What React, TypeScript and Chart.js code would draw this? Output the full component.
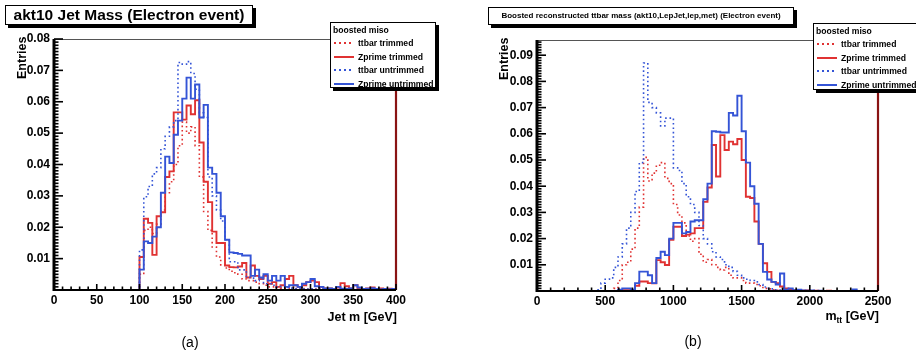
import React, { useEffect, useRef } from 'react';
import { Chart, registerables } from 'chart.js';

Chart.register(...registerables);

const FONT = "'Liberation Sans', Arial, Helvetica, sans-serif";
const RED = '#e03232';
const BLUE = '#3454d6';
const DARKRED = '#8a1414';

// ---------- Panel (a): akt10 jet mass, 80 bins of 5 GeV over 0-400 ----------
const binWidthA = 5;
const ttbarTrimmedA = [
  0, 0, 0, 0, 0, 0, 0, 0, 0, 0, 0, 0, 0, 0, 0, 0, 0, 0, 0, 0,
  0.005, 0.019, 0.02, 0.018, 0.021, 0.0255, 0.031, 0.0345, 0.04, 0.046,
  0.0535, 0.05, 0.052, 0.046, 0.036, 0.025, 0.019, 0.0137, 0.0105, 0.008,
  0.007, 0.006, 0.0055, 0.005, 0.0035, 0.003, 0.003, 0.0025, 0.002, 0.0015,
  0.001, 0.001, 0.0008, 0.0006, 0.0005, 0.0008, 0.0004, 0.0003, 0.0005, 0.0003,
  0.0002, 0.0003, 0.0002, 0.0001, 0.0002, 0, 0.0001, 0.0002, 0, 0.0001,
  0.0001, 0, 0.0001, 0, 0, 0.0001, 0, 0, 0, 0,
];
const zprimeTrimmedA = [
  0, 0, 0, 0, 0, 0, 0, 0, 0, 0, 0, 0, 0, 0, 0, 0, 0, 0, 0, 0,
  0.0105, 0.0227, 0.0214, 0.0112, 0.0235, 0.0248, 0.036, 0.0378, 0.0566, 0.0566,
  0.0543, 0.0588, 0.056, 0.0605, 0.047, 0.0345, 0.028, 0.0186, 0.015, 0.015,
  0.0078, 0.0073, 0.0072, 0.0075, 0.0086, 0.004, 0.0078, 0.0045, 0.0035, 0.0045,
  0.002, 0.0025, 0.001, 0.0015, 0.0035, 0.0045, 0.0015, 0.001, 0.0015, 0.0025,
  0.003, 0.0025, 0.001, 0.0005, 0.0005, 0.0003, 0.0008, 0.0022, 0.0012, 0.0005,
  0.0015, 0.0005, 0.0003, 0.0005, 0.0008, 0.0003, 0.0005, 0.0002, 0.0004, 0.0003,
];
const ttbarUntrimmedA = [
  0, 0, 0, 0, 0, 0, 0, 0, 0, 0, 0, 0, 0, 0, 0, 0, 0, 0, 0, 0,
  0.0128, 0.0297, 0.033, 0.037, 0.039, 0.045, 0.049, 0.052, 0.054, 0.0725,
  0.072, 0.0728, 0.069, 0.064, 0.0565, 0.055, 0.036, 0.03, 0.0255, 0.022,
  0.016, 0.009, 0.009, 0.0064, 0.0064, 0.004, 0.0038, 0.003, 0.0035, 0.002,
  0.002, 0.0015, 0.001, 0.0012, 0.0008, 0.0006, 0.0005, 0.0006, 0.0004, 0.0003,
  0.0004, 0.0002, 0.0003, 0.0001, 0.0002, 0.0001, 0.0002, 0, 0.0001, 0.0001,
  0, 0.0001, 0, 0.0001, 0, 0, 0.0001, 0, 0, 0,
];
const zprimeUntrimmedA = [
  0, 0, 0, 0, 0, 0, 0, 0, 0, 0, 0, 0, 0, 0, 0, 0, 0, 0, 0, 0,
  0.0065, 0.0155, 0.015, 0.017, 0.02, 0.031, 0.0425, 0.0405, 0.0495, 0.054,
  0.061, 0.0677, 0.061, 0.0655, 0.055, 0.059, 0.039, 0.037, 0.031, 0.0235,
  0.016, 0.012, 0.0118, 0.0115, 0.011, 0.011, 0.0045, 0.0065, 0.004, 0.005,
  0.003, 0.0045, 0.003, 0.0045, 0.001, 0.0015, 0.0015, 0.001, 0.002, 0.0025,
  0.0035, 0.0012, 0.001, 0.0005, 0.0005, 0.0003, 0.001, 0.0004, 0.0003, 0.0005,
  0.0015, 0.0008, 0.0003, 0.0004, 0.0006, 0.0003, 0.0002, 0.0003, 0.0002, 0.0003,
];
const xTicksA = { max: 400, major: 50, minor: 10 };
const yTicksA = { max: 0.08, major: 0.01, minor: 0.001 };

// ---------- Panel (b): reconstructed ttbar mass, 80 bins of 31.25 GeV over 0-2500 ----------
const binWidthB = 31.25;
const ttbarTrimmedB = [
  0, 0, 0, 0, 0, 0, 0, 0, 0, 0, 0, 0, 0, 0, 0, 0, 0, 0, 0.001, 0.004,
  0.01, 0.011, 0.016, 0.024, 0.032, 0.051, 0.042, 0.045, 0.048, 0.049,
  0.043, 0.041, 0.033, 0.029, 0.026, 0.021, 0.019, 0.02, 0.014, 0.011,
  0.012, 0.01, 0.009, 0.008, 0.009, 0.006, 0.005, 0.005, 0.004, 0.003,
  0.003, 0.0025, 0.002, 0.001, 0.0008, 0.0005, 0.0003, 0.0002, 0.0001, 0,
  0, 0, 0, 0, 0, 0, 0, 0, 0, 0,
  0, 0, 0, 0, 0, 0, 0, 0, 0, 0,
];
const zprimeTrimmedB = [
  0, 0, 0, 0, 0, 0, 0, 0, 0, 0, 0, 0, 0, 0, 0, 0, 0, 0, 0, 0.0003,
  0.0003, 0.0003, 0.0003, 0.002, 0.0036, 0.0036, 0.003, 0.0029, 0.0118, 0.011,
  0.0099, 0.0195, 0.0245, 0.0245, 0.021, 0.0215, 0.022, 0.024, 0.024, 0.034,
  0.0395, 0.0557, 0.0437, 0.0595, 0.0538, 0.057, 0.056, 0.058, 0.05, 0.036,
  0.0355, 0.0265, 0.018, 0.0106, 0.0073, 0.0035, 0.003, 0.0017, 0.001, 0.0005,
  0.0003, 0.0002, 0.0001, 0.0002, 0, 0.0001, 0, 0, 0.0001, 0,
  0, 0, 0, 0, 0.0001, 0, 0, 0, 0, 0,
];
const ttbarUntrimmedB = [
  0, 0, 0, 0, 0, 0, 0, 0, 0, 0, 0, 0, 0, 0, 0.0005, 0.003, 0.0045, 0.005, 0.009, 0.013,
  0.018, 0.024, 0.03, 0.038, 0.049, 0.087, 0.072, 0.07, 0.068, 0.063,
  0.066, 0.066, 0.047, 0.046, 0.041, 0.036, 0.033, 0.03, 0.025, 0.02,
  0.018, 0.015, 0.013, 0.012, 0.01, 0.009, 0.0075, 0.006, 0.005, 0.0045,
  0.004, 0.0035, 0.0025, 0.0015, 0.001, 0.0008, 0.0005, 0.0003, 0.0001, 0,
  0, 0, 0, 0, 0, 0, 0, 0, 0, 0,
  0, 0, 0, 0, 0, 0, 0, 0, 0, 0,
];
const zprimeUntrimmedB = [
  0, 0, 0, 0, 0, 0, 0, 0, 0, 0, 0, 0, 0, 0, 0, 0, 0, 0, 0, 0.0005,
  0.001, 0.001, 0.0005, 0.003, 0.0074, 0.0074, 0.006, 0.003, 0.0126, 0.015,
  0.0137, 0.02, 0.026, 0.026, 0.022, 0.0225, 0.0265, 0.027, 0.027, 0.035,
  0.041, 0.061, 0.0608, 0.0605, 0.0605, 0.068, 0.067, 0.0745, 0.061, 0.049,
  0.04, 0.0333, 0.018, 0.0073, 0.0044, 0.0035, 0.0025, 0.0067, 0.0005, 0.001,
  0.0003, 0.0005, 0.0002, 0.0001, 0.0002, 0, 0.0001, 0, 0, 0,
  0, 0, 0, 0, 0.0006, 0, 0, 0, 0, 0,
];
const xTicksB = { max: 2500, major: 500, minor: 100 };
const yTicksB = { max: 0.0958, major: 0.01, minor: 0.001 };

// ---------- series metadata ----------
const seriesLabels = ['ttbar trimmed', 'Zprime trimmed', 'ttbar untrimmed', 'Zprime untrimmed'];
const seriesColors = [RED, RED, BLUE, BLUE];
const seriesDotted = [true, false, true, false];

function toPoints(values: number[], width: number) {
  const pts = [{ x: 0, y: 0 }];
  values.forEach((v, i) => pts.push({ x: (i + 1) * width, y: v }));
  return pts;
}

function makeDatasets(series: number[][], width: number) {
  const ds = series.map((vals, i) => ({
    label: seriesLabels[i],
    data: toPoints(vals, width),
    borderColor: seriesColors[i],
    borderWidth: seriesDotted[i] ? 1.6 : 1.9,
    borderDash: seriesDotted[i] ? [1.6, 2.8] : [],
    stepped: 'after' as const,
    fill: false,
    pointRadius: 0,
    tension: 0,
  }));
  // first dataset is drawn on top in Chart.js -> reverse so Zprime untrimmed is on top
  return ds.reverse();
}

function framePlugin(xt: any, yt: any) {
  return {
    id: 'rootFrame',
    afterDatasetsDraw(chart: any) {
      const ctx = chart.ctx;
      const { left, right, top, bottom } = chart.chartArea;
      const xs = chart.scales.x;
      const ys = chart.scales.y;
      const line = (x1: number, y1: number, x2: number, y2: number) => {
        ctx.beginPath();
        ctx.moveTo(x1, y1);
        ctx.lineTo(x2, y2);
        ctx.stroke();
      };
      ctx.save();
      ctx.strokeStyle = '#555';
      ctx.lineWidth = 1;
      line(left, top + 0.5, right, top + 0.5);
      ctx.strokeStyle = DARKRED;
      ctx.lineWidth = 2.2;
      line(right, top, right, bottom);
      ctx.strokeStyle = '#000';
      ctx.lineWidth = 2;
      line(left, bottom, right, bottom);
      ctx.lineWidth = 1.6;
      const nx = Math.round(xt.max / xt.minor);
      for (let i = 0; i <= nx; i++) {
        const v = i * xt.minor;
        const px = xs.getPixelForValue(v);
        const isMajor = Math.abs(v / xt.major - Math.round(v / xt.major)) < 1e-6;
        line(px, bottom, px, bottom - (isMajor ? 6 : 3.5));
      }
      ctx.lineWidth = 3;
      line(left, top, left, bottom + 1);
      ctx.lineWidth = 1.6;
      const ny = Math.floor(yt.max / yt.minor + 1e-6);
      for (let i = 0; i <= ny; i++) {
        const v = i * yt.minor;
        const py = ys.getPixelForValue(v);
        const isMajor = i % Math.round(yt.major / yt.minor) === 0;
        line(left, py, left + (isMajor ? 9 : 4.5), py);
      }
      ctx.restore();
    },
  };
}

type PanelProps = {
  series: number[][];
  width: number;
  xt: { max: number; major: number; minor: number };
  yt: { max: number; major: number; minor: number };
  left: number;
  pad: { left: number; right: number; top: number; bottom: number };
  yAxisWidth: number;
};

function Panel({ series, width, xt, yt, left, pad, yAxisWidth }: PanelProps) {
  const ref = useRef<HTMLCanvasElement | null>(null);
  useEffect(() => {
    if (!ref.current) return;
    const tickFont = { family: FONT, weight: 'bold' as const, size: 12 };
    const chart = new Chart(ref.current, {
      type: 'line',
      data: { datasets: makeDatasets(series, width) as any },
      options: {
        animation: false,
        responsive: false,
        maintainAspectRatio: false,
        devicePixelRatio: 1,
        layout: { padding: pad },
        plugins: { legend: { display: false }, tooltip: { enabled: false }, title: { display: false } },
        elements: { point: { radius: 0 } },
        scales: {
          x: {
            type: 'linear',
            min: 0,
            max: xt.max,
            grid: { display: false, drawTicks: false },
            border: { display: false },
            ticks: {
              stepSize: xt.major,
              padding: 3,
              color: '#000',
              font: tickFont,
              maxRotation: 0,
              autoSkip: false,
              callback: (v: any) => String(Math.round(Number(v))),
            },
            afterFit: (s: any) => {
              s.height = 20;
            },
          },
          y: {
            type: 'linear',
            min: 0,
            max: yt.max,
            grid: { display: false, drawTicks: false },
            border: { display: false },
            ticks: {
              stepSize: yt.major,
              includeBounds: false,
              padding: 4,
              color: '#000',
              font: tickFont,
              callback: (v: any) => (Number(v) < 1e-9 ? '' : Number(v).toFixed(2)),
            },
            afterFit: (s: any) => {
              s.width = yAxisWidth;
            },
          },
        },
      },
      plugins: [framePlugin(xt, yt)],
    });
    return () => chart.destroy();
  }, []);
  return (
    <canvas
      ref={ref}
      width={458}
      height={353}
      style={{ position: 'absolute', left, top: 0, width: 458, height: 353 }}
    />
  );
}

function LegendBox({ left, top, width, height }: { left: number; top: number; width: number; height: number }) {
  return (
    <div
      style={{
        position: 'absolute',
        left,
        top,
        width,
        height,
        boxSizing: 'border-box',
        border: '1.5px solid #000',
        boxShadow: '3px 3px 0 #000',
        background: '#fff',
        fontFamily: FONT,
        fontWeight: 'bold',
        fontSize: 8.6,
        color: '#000',
        overflow: 'hidden',
      }}
    >
      <div style={{ position: 'absolute', left: 2, top: 1, lineHeight: '12px' }}>boosted miso</div>
      {seriesLabels.map((lab, i) => (
        <div key={lab} style={{ position: 'absolute', left: 0, top: 14 + i * 13.7, height: 12, width: 200 }}>
          <div
            style={{
              position: 'absolute',
              left: 3,
              top: 5,
              width: 20,
              height: 2,
              background: seriesDotted[i]
                ? `repeating-linear-gradient(to right, ${seriesColors[i]} 0 2px, transparent 2px 5px)`
                : seriesColors[i],
            }}
          />
          <div style={{ position: 'absolute', left: 27, top: 0, lineHeight: '12px', whiteSpace: 'nowrap' }}>{lab}</div>
        </div>
      ))}
    </div>
  );
}

const titleBoxStyle: React.CSSProperties = {
  position: 'absolute',
  boxSizing: 'border-box',
  border: '1.5px solid #000',
  boxShadow: '3px 3px 0 #000',
  background: '#fff',
  fontFamily: FONT,
  fontWeight: 'bold',
  color: '#000',
  textAlign: 'center',
  whiteSpace: 'nowrap',
};

const axisTitle: React.CSSProperties = {
  position: 'absolute',
  fontFamily: FONT,
  fontWeight: 'bold',
  fontSize: 12.5,
  color: '#000',
  whiteSpace: 'nowrap',
};

export default function App() {
  return (
    <div
      style={{
        position: 'fixed',
        left: 0,
        top: 0,
        width: 916,
        height: 353,
        overflow: 'hidden',
        background: '#fff',
      }}
    >
      <Panel
        series={[ttbarTrimmedA, zprimeTrimmedA, ttbarUntrimmedA, zprimeUntrimmedA]}
        width={binWidthA}
        xt={xTicksA}
        yt={yTicksA}
        left={0}
        pad={{ left: 0, right: 62, top: 39, bottom: 43 }}
        yAxisWidth={54}
      />
      <Panel
        series={[ttbarTrimmedB, zprimeTrimmedB, ttbarUntrimmedB, zprimeUntrimmedB]}
        width={binWidthB}
        xt={xTicksB}
        yt={yTicksB}
        left={458}
        pad={{ left: 0, right: 38, top: 40, bottom: 42 }}
        yAxisWidth={79}
      />

      {/* panel (a) texts */}
      <div style={{ ...titleBoxStyle, left: 5, top: 5, width: 248, height: 20, fontSize: 15.5, lineHeight: '17px' }}>
        akt10 Jet Mass (Electron event)
      </div>
      <LegendBox left={330} top={22} width={106} height={66} />
      <div
        style={{
          ...axisTitle,
          left: 15,
          top: 37,
          height: 44,
          lineHeight: '14px',
          writingMode: 'vertical-rl',
          transform: 'rotate(180deg)',
          textAlign: 'end',
        }}
      >
        Entries
      </div>
      <div style={{ ...axisTitle, right: 916 - 397, top: 310 }}>Jet m [GeV]</div>
      <div
        style={{
          position: 'absolute',
          left: 190,
          top: 334,
          transform: 'translateX(-50%)',
          fontFamily: FONT,
          fontSize: 14,
          color: '#000',
        }}
      >
        (a)
      </div>

      {/* panel (b) texts */}
      <div style={{ ...titleBoxStyle, left: 488, top: 7, width: 306, height: 18, fontSize: 8, lineHeight: '15px' }}>
        Boosted reconstructed ttbar mass (akt10,LepJet,lep,met) (Electron event)
      </div>
      <LegendBox left={813} top={23} width={110} height={67} />
      <div
        style={{
          ...axisTitle,
          left: 497,
          top: 38,
          height: 44,
          lineHeight: '14px',
          writingMode: 'vertical-rl',
          transform: 'rotate(180deg)',
          textAlign: 'end',
        }}
      >
        Entries
      </div>
      <div style={{ ...axisTitle, right: 916 - 879, top: 309 }}>
        m<span style={{ fontSize: 8.5, position: 'relative', top: 3 }}>tt</span> [GeV]
      </div>
      <div
        style={{
          position: 'absolute',
          left: 693,
          top: 333,
          transform: 'translateX(-50%)',
          fontFamily: FONT,
          fontSize: 14,
          color: '#000',
        }}
      >
        (b)
      </div>
    </div>
  );
}
